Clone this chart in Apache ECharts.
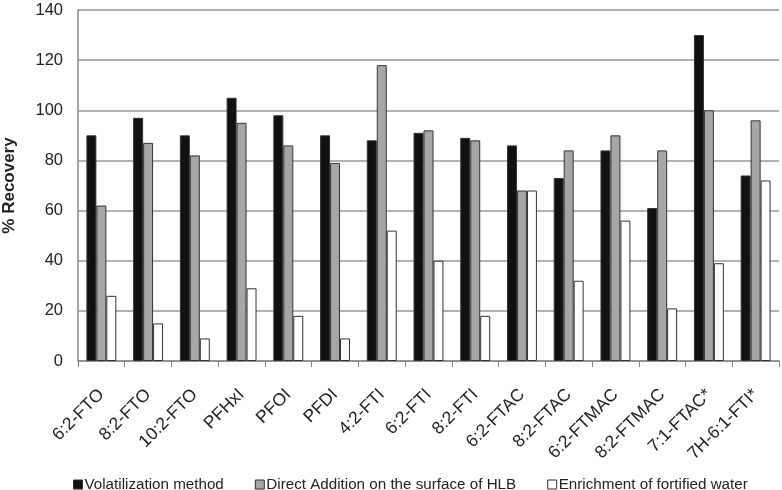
<!DOCTYPE html>
<html><head><meta charset="utf-8">
<script src="https://cdn.jsdelivr.net/npm/echarts@6/dist/echarts.min.js"></script>
<style>html,body{margin:0;padding:0;background:#fff}#c{width:782px;height:490px}</style>
</head><body><div id="c"></div>
<script>
const categories = ['6:2-FTO','8:2-FTO','10:2-FTO','PFHxI','PFOI','PFDI','4:2-FTI','6:2-FTI','8:2-FTI','6:2-FTAC','8:2-FTAC','6:2-FTMAC','8:2-FTMAC','7:1-FTAC*','7H-6:1-FTI*'];
const volatilization = [90,97,90,105,98,90,88,91,89,86,73,84,61,130,74];
const directAddition = [62,87,82,95,86,79,118,92,88,68,84,90,84,100,96];
const enrichment = [26,15,9,29,18,9,52,40,18,68,32,56,21,39,72];
const seriesNames = ['Volatilization method','Direct Addition on the surface of HLB','Enrichment of fortified water'];
const yTicks = {min:0,max:140,interval:20};

const chart = echarts.init(document.getElementById('c'));
const font = 'Liberation Sans, Arial, sans-serif';
const colors = ['#111111','#a6a6a6','#ffffff'];
const datas = [volatilization, directAddition, enrichment];
chart.setOption({
  animation:false,
  textStyle:{fontFamily:font},
  grid:{left:78,right:3,top:10,bottom:129,containLabel:false,outerBoundsMode:'none'},
  legend:{
    top:472,left:68,itemWidth:9,itemHeight:9,itemGap:31,
    icon:'rect',
    textStyle:{fontFamily:font,fontSize:15.2,color:'#222',padding:[0,0,0,-3]},
    data:seriesNames.map((n,i)=>({name:n,itemStyle:{color:colors[i],borderColor:'#333',borderWidth:1}}))
  },
  xAxis:{
    type:'category',data:categories,
    axisLine:{lineStyle:{color:'#888',width:1.5}},
    axisTick:{show:true,length:6,lineStyle:{color:'#888'}},
    axisLabel:{rotate:45,fontSize:17.5,color:'#222',fontFamily:font,margin:31,interval:0}
  },
  yAxis:{
    type:'value',min:yTicks.min,max:yTicks.max,interval:yTicks.interval,
    name:'% Recovery',nameLocation:'middle',nameGap:60,
    nameTextStyle:{fontSize:17,fontWeight:'bold',color:'#222',fontFamily:font},
    axisLine:{show:true,lineStyle:{color:'#888',width:1.5}},
    axisTick:{show:false},
    axisLabel:{fontSize:16.5,color:'#222',fontFamily:font,margin:15},
    splitLine:{lineStyle:{color:'#999',width:1.5}}
  },
  series:seriesNames.map((n,i)=>({
    name:n,type:'bar',data:datas[i],barGap:'0%',barCategoryGap:'36%',
    itemStyle:{color:colors[i],borderColor:'#333',borderWidth:1}
  }))
});
</script></body></html>
